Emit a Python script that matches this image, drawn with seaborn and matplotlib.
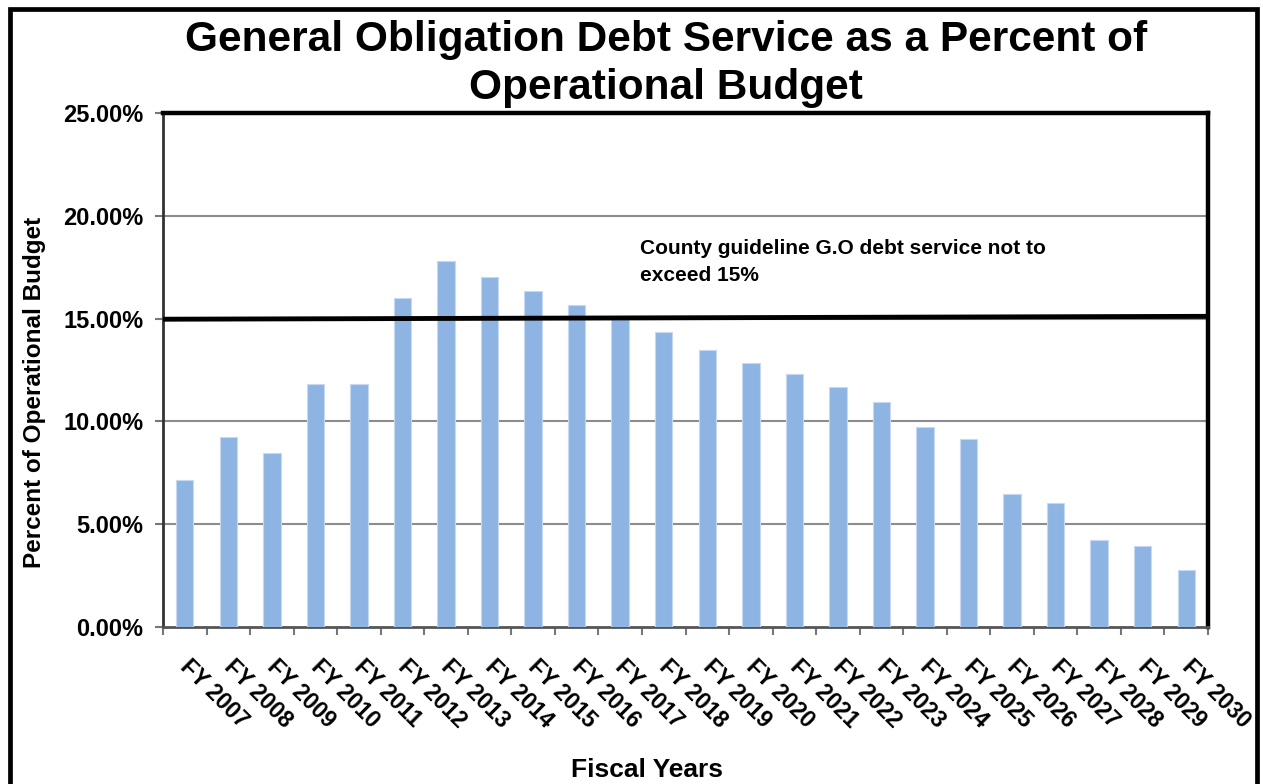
import matplotlib
matplotlib.use("Agg")
import matplotlib.pyplot as plt
import matplotlib.transforms as mtransforms
import seaborn as sns
import pandas as pd
from matplotlib.patches import Rectangle
from matplotlib.ticker import FuncFormatter, FixedLocator

years = ["FY 2007", "FY 2008", "FY 2009", "FY 2010", "FY 2011", "FY 2012",
         "FY 2013", "FY 2014", "FY 2015", "FY 2016", "FY 2017", "FY 2018",
         "FY 2019", "FY 2020", "FY 2021", "FY 2022", "FY 2023", "FY 2024",
         "FY 2025", "FY 2026", "FY 2027", "FY 2028", "FY 2029", "FY 2030"]
debt_pct = [7.15, 9.24, 8.46, 11.84, 11.84, 15.99, 17.8, 17.02, 16.36, 15.66,
            14.98, 14.33, 13.47, 12.82, 12.29, 11.66, 10.96, 9.73, 9.14, 6.45,
            6.03, 4.23, 3.94, 2.79]
guideline_start = 14.97
guideline_end = 15.11
yticks = [0, 5, 10, 15, 20, 25]

title = "General Obligation Debt Service as a Percent of\nOperational Budget"
note = "County guideline G.O debt service not to\nexceed 15%"

sns.set_theme(style="white")
plt.rcParams['font.family'] = ['Liberation Sans', 'DejaVu Sans']
plt.rcParams['font.weight'] = 'bold'
plt.rcParams['text.color'] = 'black'
plt.rcParams['axes.labelcolor'] = 'black'
plt.rcParams['xtick.color'] = 'black'
plt.rcParams['ytick.color'] = 'black'

df = pd.DataFrame({"year": years, "pct": debt_pct})

fig = plt.figure(figsize=(12.63, 7.84), dpi=100)
ax = fig.add_axes([163/1263, 1-627/784, (1208-163)/1263, (627-113)/784])

sns.barplot(data=df, x="year", y="pct", color="#8DB4E2", width=0.4,
            saturation=1, edgecolor="#C6D9F1", linewidth=0.8, ax=ax, zorder=3)

n = len(years)
ax.set_xlim(-0.5, n - 0.5)
ax.set_ylim(0, 25)
ax.set_yticks(yticks)
ax.yaxis.set_major_formatter(FuncFormatter(lambda v, p: f"{v:.2f}%"))
for y in yticks[1:-1]:
    ax.axhline(y, color="#8c8c8c", lw=1.5, zorder=1)

# guideline
ax.plot([-0.5, n - 0.5], [guideline_start, guideline_end], color="black",
        lw=3.5, zorder=5, solid_capstyle="butt")
ax.text(10.46, 17.75, note, fontsize=15, fontweight="bold", ha="left",
        va="center", linespacing=1.5, zorder=6, color="black")

# spines
for s in ["top", "right"]:
    ax.spines[s].set_color("black")
    ax.spines[s].set_linewidth(3.2)
ax.spines["left"].set_color("#333333")
ax.spines["left"].set_linewidth(2)
ax.spines["bottom"].set_color("#555555")
ax.spines["bottom"].set_linewidth(2)

# ticks
ax.xaxis.set_minor_locator(FixedLocator([i - 0.5 for i in range(n + 1)]))
ax.tick_params(axis="x", which="major", length=0, pad=20, labelcolor="black")
ax.tick_params(axis="x", which="minor", length=6, width=1.5, color="#777777",
               direction="out", bottom=True)
ax.tick_params(axis="y", length=6, width=1.5, color="#777777", direction="out",
               left=True, pad=8, labelcolor="black")
for lbl in ax.get_yticklabels():
    lbl.set_fontsize(17)
    lbl.set_fontweight("bold")
ax.set_xticks(range(n))
ax.set_xticklabels(years, rotation=-45, ha="left", va="top",
                   rotation_mode="anchor", fontsize=16.5, fontweight="bold")
offset = mtransforms.ScaledTranslation(7/100, 0, fig.dpi_scale_trans)
for lbl in ax.get_xticklabels():
    lbl.set_transform(lbl.get_transform() + offset)

ax.set_xlabel("")
ax.set_ylabel("")
fig.text(647/1263, 1-770/784, "Fiscal Years", ha="center", va="center",
         fontsize=19, fontweight="bold", color="black")
fig.text(35/1263, 1-392/784, "Percent of Operational Budget", ha="center",
         va="center", rotation=90, fontsize=17.5, fontweight="bold",
         color="black")
fig.text(666/1263, 1-64/784, title, ha="center", va="center", fontsize=30.5,
         fontweight="bold", linespacing=1.25, color="black")

# outer border
fig.add_artist(Rectangle((9.5/1263, -0.05), (1256.5-9.5)/1263, 1.05 - 9.5/784,
                         transform=fig.transFigure, fill=False,
                         edgecolor="black", lw=3.4))

fig.savefig("out.png", dpi=100)
